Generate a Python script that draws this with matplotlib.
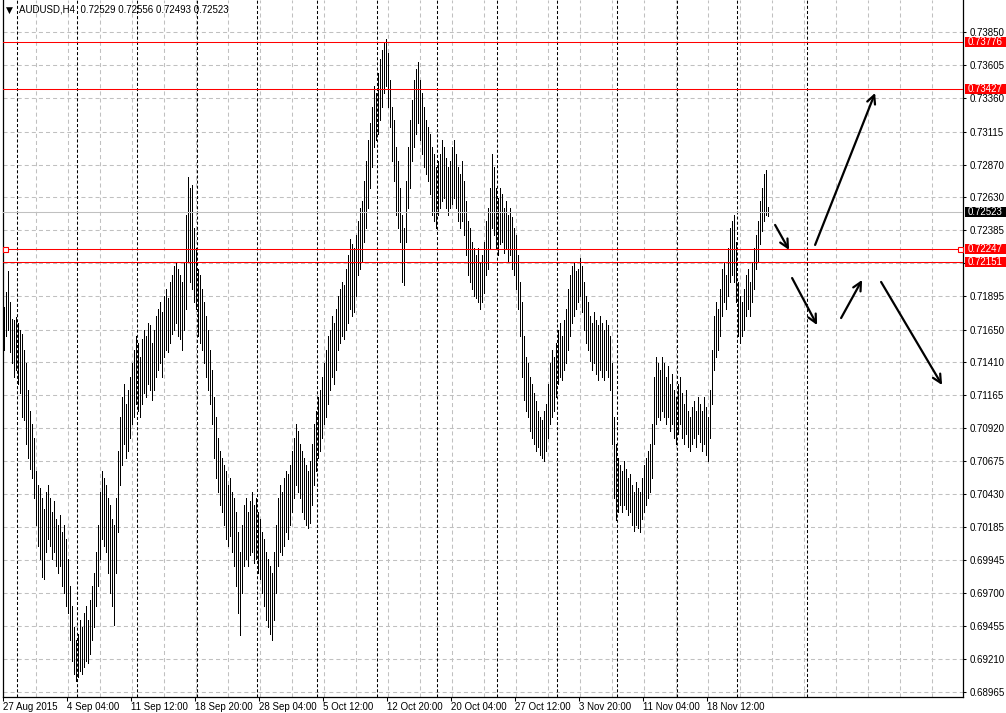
import numpy as np
import matplotlib.pyplot as plt
from matplotlib.patches import Rectangle
from matplotlib.transforms import blended_transform_factory

plt.rcParams['font.family'] = ['Liberation Sans', 'DejaVu Sans']
plt.rcParams['lines.scale_dashes'] = False

title = "AUDUSD,H4  0.72529 0.72556 0.72493 0.72523"

# H4 bars from 27 Aug 2015 20:00, prices in pips (price * 10000)
highs = [
    7182, 7193, 7208, 7185, 7173, 7172, 7174, 7170, 7165, 7162,
    7150, 7140, 7120, 7105, 7095, 7085, 7060, 7050, 7048, 7040,
    7032, 7045, 7050, 7040, 7030, 7038, 7025, 7020, 7028, 7015,
    7020, 7010, 6995, 6975, 6960, 6945, 6935, 6940, 6950, 6945,
    6955, 6960, 6950, 6965, 6975, 6985, 7000, 7020, 7045, 7060,
    7055, 7050, 7040, 7035, 7025, 7020, 7040, 7075, 7100, 7115,
    7125, 7110, 7120, 7130, 7140, 7150, 7160, 7155, 7145, 7158,
    7165, 7160, 7170, 7168, 7155, 7165, 7175, 7180, 7185, 7178,
    7190, 7195, 7188, 7200, 7205, 7212, 7215, 7210, 7205, 7200,
    7215, 7250, 7278, 7270, 7272, 7240, 7225, 7210, 7205, 7195,
    7185, 7175, 7165, 7150, 7135, 7115, 7100, 7085, 7075, 7070,
    7065, 7060, 7050, 7055, 7045, 7040, 7030, 7015, 7000, 7020,
    7035, 7040, 7030, 7038, 7045, 7035, 7040, 7030, 7025, 7015,
    7010, 7000, 6995, 6990, 6985, 7000, 7020, 7040, 7050, 7045,
    7055, 7060, 7058, 7065, 7075, 7085, 7095, 7090, 7080, 7075,
    7070, 7065, 7060, 7068, 7080, 7095, 7105, 7115, 7120, 7130,
    7140, 7150, 7160, 7165, 7175, 7170, 7180, 7190, 7195, 7200,
    7198, 7210, 7220, 7232, 7228, 7225, 7235, 7245, 7255, 7260,
    7275, 7290, 7305, 7318, 7330, 7345, 7340, 7355, 7365, 7372,
    7378, 7380, 7370, 7350, 7330, 7320, 7300, 7290, 7270, 7250,
    7240, 7275, 7300, 7320, 7335, 7350, 7358, 7363, 7350, 7340,
    7330, 7320, 7315, 7310, 7300, 7295, 7285, 7290, 7295, 7305,
    7300, 7292, 7285, 7290, 7300, 7305, 7295, 7285, 7280, 7290,
    7275, 7260, 7245, 7240, 7230, 7225, 7220, 7225, 7215, 7220,
    7230, 7245, 7255, 7270, 7295, 7285, 7270, 7262, 7270, 7265,
    7255, 7260, 7250, 7255, 7248, 7240, 7235, 7220, 7200, 7185,
    7160, 7145, 7140, 7130, 7125, 7118, 7112, 7105, 7100, 7098,
    7105, 7110, 7125, 7140, 7150, 7145, 7155, 7165, 7170, 7160,
    7172, 7180, 7195, 7205, 7212, 7215, 7208, 7210, 7218, 7212,
    7200, 7190, 7185, 7175, 7170, 7178, 7172, 7168, 7175, 7170,
    7165, 7172, 7168, 7160, 7140, 7100, 7080, 7070, 7065, 7060,
    7068, 7062, 7055, 7058, 7050, 7045, 7052, 7048, 7045, 7055,
    7065, 7070, 7075, 7080, 7095, 7130, 7145, 7140, 7135, 7145,
    7140, 7130, 7138, 7125, 7132, 7120, 7115, 7125, 7130, 7118,
    7110, 7120, 7105, 7100, 7108, 7112, 7105, 7115, 7110, 7105,
    7115, 7108, 7100, 7120, 7150, 7175, 7185, 7180, 7195, 7210,
    7215, 7205, 7225, 7240, 7245, 7250, 7230, 7200, 7190, 7185,
    7195, 7205, 7210, 7200, 7215, 7225, 7235, 7245, 7260, 7270,
    7280, 7283, 7256,
]
lows = [
    7150, 7160, 7165, 7148, 7140, 7130, 7135, 7125, 7118, 7100,
    7098, 7080, 7070, 7062, 7055, 7040, 7020, 7005, 6995, 6982,
    6980, 7000, 7010, 7005, 6995, 7000, 6990, 6985, 6990, 6975,
    6970, 6960, 6955, 6935, 6920, 6910, 6905, 6908, 6912, 6910,
    6915, 6920, 6918, 6925, 6935, 6945, 6960, 6975, 6995, 7010,
    7005, 7000, 6985, 6970, 6960, 6946, 6985, 7015, 7050, 7065,
    7080, 7070, 7075, 7085, 7095, 7100, 7110, 7105, 7100, 7110,
    7118, 7115, 7125, 7120, 7113, 7120, 7130, 7135, 7140, 7130,
    7145, 7150, 7148, 7155, 7162, 7165, 7170, 7160, 7158, 7150,
    7165, 7180, 7215, 7200, 7195, 7185, 7180, 7160, 7155, 7150,
    7140, 7130, 7120, 7110, 7095, 7070, 7055, 7045, 7035, 7030,
    7020, 7010, 7005, 7012, 7000, 6990, 6975, 6955, 6939, 6970,
    6990, 6995, 6990, 6998, 7000, 6992, 6995, 6985, 6980, 6970,
    6960, 6950, 6945, 6940, 6935, 6950, 6970, 6990, 7000, 6998,
    7005, 7015, 7010, 7020, 7030, 7040, 7050, 7045, 7040, 7030,
    7025, 7020, 7018, 7022, 7035, 7050, 7060, 7070, 7075, 7085,
    7095, 7100, 7110, 7120, 7130, 7125, 7135, 7150, 7155, 7160,
    7158, 7165, 7170, 7180, 7175, 7178, 7190, 7205, 7210, 7215,
    7230, 7240, 7255, 7270, 7285, 7300, 7305, 7310, 7320, 7330,
    7340, 7345, 7330, 7315, 7290, 7275, 7250, 7240, 7230, 7200,
    7198, 7230, 7255, 7270, 7290, 7300, 7310, 7318, 7305, 7295,
    7285, 7280, 7275, 7265, 7250, 7245, 7240, 7250, 7255, 7260,
    7262, 7255, 7250, 7255, 7258, 7262, 7255, 7245, 7240, 7245,
    7235, 7220, 7205, 7200, 7195, 7190, 7188, 7185, 7180, 7185,
    7192, 7205, 7210, 7225, 7240, 7235, 7225, 7220, 7228, 7230,
    7222, 7225, 7215, 7220, 7210, 7205, 7195, 7180, 7160, 7130,
    7113, 7105, 7100, 7090, 7085, 7080, 7075, 7078, 7072, 7070,
    7068, 7075, 7085, 7095, 7100, 7105, 7115, 7125, 7130, 7128,
    7135, 7140, 7150, 7160, 7170, 7175, 7180, 7185, 7190, 7178,
    7165, 7155, 7150, 7142, 7135, 7140, 7132, 7128, 7135, 7130,
    7128, 7135, 7130, 7120, 7080, 7040, 7024, 7030, 7035, 7030,
    7035, 7032, 7028, 7030, 7020, 7016, 7020, 7018, 7015, 7025,
    7030, 7035, 7040, 7045, 7055, 7080, 7095, 7100, 7098, 7105,
    7100, 7095, 7100, 7090, 7095, 7085, 7080, 7088, 7095, 7085,
    7080, 7088, 7078, 7075, 7080, 7085, 7078, 7088, 7082, 7075,
    7080, 7072, 7068, 7085, 7110, 7135, 7145, 7150, 7160, 7175,
    7185, 7180, 7190, 7200, 7205, 7200, 7185, 7160, 7155, 7160,
    7165, 7175, 7180, 7175, 7185, 7195, 7210, 7215, 7228, 7238,
    7245, 7250, 7249,
]

price_ticks = [0.73850, 0.73605, 0.73360, 0.73115, 0.72870, 0.72630, 0.72385,
               0.72140, 0.71895, 0.71650, 0.71410, 0.71165, 0.70920, 0.70675,
               0.70430, 0.70185, 0.69945, 0.69700, 0.69455, 0.69210, 0.68965]
hidden_tick = 0.72140   # covered by the 0.72151 tag in the terminal
date_labels = ["27 Aug 2015", "4 Sep 04:00", "11 Sep 12:00", "18 Sep 20:00",
               "28 Sep 04:00", "5 Oct 12:00", "12 Oct 20:00", "20 Oct 04:00",
               "27 Oct 12:00", "3 Nov 20:00", "11 Nov 04:00", "18 Nov 12:00"]
week_starts = [7, 37, 67, 97, 127, 157, 187, 217, 247, 277, 307, 337, 367, 402]

red_levels = [0.73776, 0.73427, 0.72247, 0.72151]
bid = 0.72523

# forecast arrows: (bar, price) start -> end
arrows = [
    ((385.8, 0.72424), (392.8, 0.72239)),
    ((405.8, 0.72276), (435.8, 0.73401)),
    ((394.3, 0.72031), (406.8, 0.71683)),
    ((418.8, 0.71735), (429.3, 0.72017)),
    ((438.8, 0.72002), (469.3, 0.71239)),
]

W, H = 1006, 713
fig = plt.figure(figsize=(W / 100, H / 100), dpi=100)
ax = fig.add_axes([2.5 / W, 16 / H, 960.5 / W, 697 / H])
ax.set_xlim(-0.5, 479.75)
ax.set_ylim(0.68930, 0.74089)

grid_c = '#c0c0c0'
for p in price_ticks:
    ax.axhline(p, color=grid_c, lw=0.75, dashes=(2.9, 2.2), zorder=0)
for b in range(16, 480, 16):
    ax.axvline(b, color=grid_c, lw=0.75, dashes=(2.9, 2.2), zorder=0)
for b in week_starts:
    ax.axvline(b - 0.25, color='black', lw=0.75, dashes=(2.2, 1.5), zorder=1)

x = np.arange(len(highs))
ax.vlines(x, np.array(lows) / 10000, np.array(highs) / 10000,
          colors='black', lw=0.5, antialiased=False, zorder=2)

ax.axhline(bid, color='#c0c0c0', lw=0.75, zorder=3)
for lv in red_levels:
    ax.axhline(lv, color='red', lw=0.75, zorder=3)
ax.plot([0.75, 478.25], [red_levels[2]] * 2, ls='none', marker='s', ms=3.6,
        mfc='white', mec='red', mew=0.8, zorder=4, clip_on=False)

for (x0, y0), (x1, y1) in arrows:
    ax.annotate('', xy=(x1, y1), xytext=(x0, y0),
                arrowprops=dict(arrowstyle='->,head_length=0.6,head_width=0.3',
                                color='black', lw=1.6, shrinkA=0, shrinkB=0))

ax.spines['top'].set_visible(False)
for side in ['left', 'right', 'bottom']:
    ax.spines[side].set_linewidth(0.9)

ax.yaxis.tick_right()
ax.set_yticks(price_ticks)
ax.set_yticklabels(['' if p == hidden_tick else f"{p:.5f}" for p in price_ticks],
                   fontsize=7)
ax.tick_params(axis='y', length=2.5, width=0.75, pad=2.5)

ax.set_xticks([32 * i - 0.25 for i in range(len(date_labels))])
ax.set_xticklabels(date_labels, fontsize=7, ha='left')
ax.tick_params(axis='x', length=3, width=0.75, pad=0.3)

# coloured price tags on the right scale
tr = blended_transform_factory(fig.transFigure, ax.transData)
tag_h = 10 * (0.74089 - 0.68930) / 697
tags = [(lv, 'red') for lv in red_levels] + [(bid, 'black')]
for lv, c in tags:
    fig.patches.append(Rectangle((965 / W, lv - tag_h / 2), 41 / W, tag_h,
                                 transform=tr, fc=c, ec='none', zorder=5))
    fig.text(968 / W, lv, f"{lv:.5f}", transform=tr, color='white',
             fontsize=7, va='center', ha='left', zorder=6)

fig.text(6 / W, 1 - 10 / H, '\u25bc', fontsize=6.5, va='center', ha='left',
         family=['DejaVu Sans'])
fig.text(19 / W, 1 - 10 / H, title, fontsize=7, va='center', ha='left')

fig.savefig('out.png', dpi=100, facecolor='white')
